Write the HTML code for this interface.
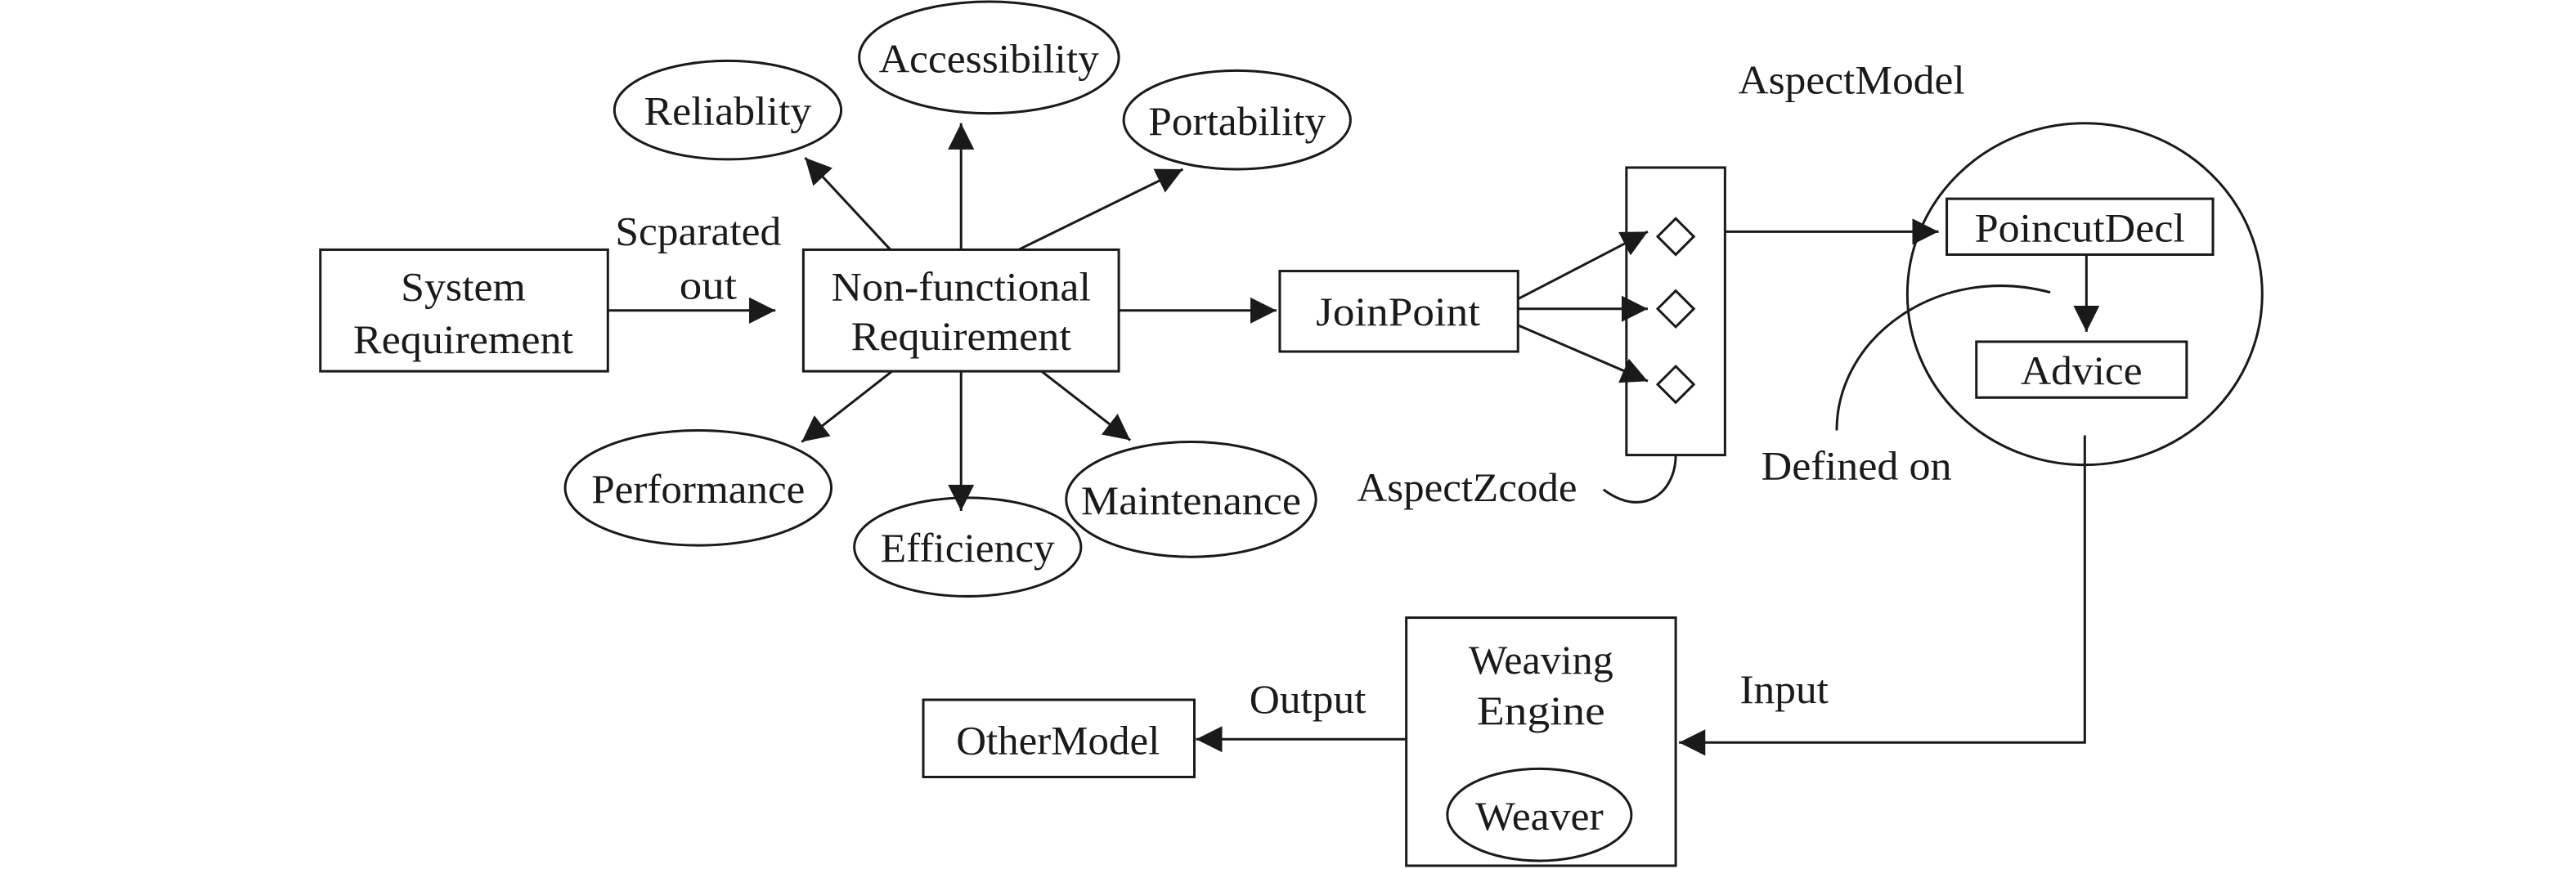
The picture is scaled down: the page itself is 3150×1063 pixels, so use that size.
<!DOCTYPE html>
<html><head><meta charset="utf-8"><style>
html,body{margin:0;padding:0;background:#fff;}
svg{display:block;}
text{font-family:"Liberation Serif",serif;font-size:25px;fill:#1a1a1a;}
</style></head><body>
<svg width="3150" height="1063" viewBox="0 0 1568 529" preserveAspectRatio="none" xmlns="http://www.w3.org/2000/svg">
<defs>
<marker id="a" viewBox="0 0 10 10" refX="10" refY="5" markerWidth="16" markerHeight="16" markerUnits="userSpaceOnUse" orient="auto">
<path d="M0,0 L10,5 L0,10 z" fill="#1a1a1a"/></marker>
</defs>
<g fill="none" stroke="#1a1a1a" stroke-width="1.5">
<rect x="195" y="152" width="175" height="74"/>
<rect x="489" y="152" width="192" height="74"/>
<rect x="779" y="165" width="145" height="49"/>
<ellipse cx="443" cy="67" rx="69" ry="30"/>
<ellipse cx="602" cy="35" rx="79" ry="34"/>
<ellipse cx="753" cy="73" rx="69" ry="30"/>
<ellipse cx="425" cy="297" rx="81" ry="35"/>
<ellipse cx="589" cy="333" rx="69" ry="30"/>
<ellipse cx="725" cy="304" rx="76" ry="35"/>
<line x1="370" y1="189" x2="472" y2="189" marker-end="url(#a)"/>
<line x1="681" y1="189" x2="777" y2="189" marker-end="url(#a)"/>
<line x1="542" y1="152" x2="490" y2="96" marker-end="url(#a)"/>
<line x1="585" y1="152" x2="585" y2="75" marker-end="url(#a)"/>
<line x1="620" y1="152" x2="720" y2="103" marker-end="url(#a)"/>
<line x1="543" y1="226" x2="488" y2="269" marker-end="url(#a)"/>
<line x1="585" y1="226" x2="585" y2="311" marker-end="url(#a)"/>
<line x1="634" y1="226" x2="688" y2="268" marker-end="url(#a)"/>
<rect x="990" y="102" width="60" height="175"/>
<path d="M1020,133 L1031,144 L1020,155 L1009,144 z"/>
<path d="M1020,177 L1031,188 L1020,199 L1009,188 z"/>
<path d="M1020,223 L1031,234 L1020,245 L1009,234 z"/>
<line x1="924" y1="182" x2="1003" y2="141" marker-end="url(#a)"/>
<line x1="924" y1="188" x2="1003" y2="188" marker-end="url(#a)"/>
<line x1="924" y1="198" x2="1003" y2="232" marker-end="url(#a)"/>
<line x1="1050" y1="141" x2="1180" y2="141" marker-end="url(#a)"/>
<ellipse cx="1269" cy="179" rx="108" ry="104"/>
<rect x="1185" y="121" width="162" height="34"/>
<rect x="1203" y="208" width="128" height="34"/>
<line x1="1270" y1="155" x2="1270" y2="202" marker-end="url(#a)"/>
<path d="M1118,262 C1118,205 1180,160 1248,178"/>
<path d="M1020,277 C1020,300 1000,316 976,298"/>
<polyline points="1269,265 1269,452 1022,452" marker-end="url(#a)"/>
<rect x="856" y="376" width="164" height="151"/>
<ellipse cx="937" cy="496" rx="56" ry="28"/>
<line x1="856" y1="450" x2="728" y2="450" marker-end="url(#a)"/>
<rect x="562" y="426" width="165" height="47"/>
</g>
<g text-anchor="middle">
<text x="282" y="183" textLength="76" lengthAdjust="spacingAndGlyphs">System</text>
<text x="282" y="215" textLength="134" lengthAdjust="spacingAndGlyphs">Requirement</text>
<text x="425" y="149" textLength="101" lengthAdjust="spacingAndGlyphs">Scparated</text>
<text x="431" y="182" textLength="35" lengthAdjust="spacingAndGlyphs">out</text>
<text x="585" y="183" textLength="158" lengthAdjust="spacingAndGlyphs">Non-functional</text>
<text x="585" y="213" textLength="134" lengthAdjust="spacingAndGlyphs">Requirement</text>
<text x="851" y="198" textLength="100" lengthAdjust="spacingAndGlyphs">JoinPoint</text>
<text x="443" y="76" textLength="102" lengthAdjust="spacingAndGlyphs">Reliablity</text>
<text x="602" y="44" textLength="134" lengthAdjust="spacingAndGlyphs">Accessibility</text>
<text x="753" y="82" textLength="108" lengthAdjust="spacingAndGlyphs">Portability</text>
<text x="425" y="306" textLength="130" lengthAdjust="spacingAndGlyphs">Performance</text>
<text x="589" y="342" textLength="106" lengthAdjust="spacingAndGlyphs">Efficiency</text>
<text x="725" y="313" textLength="134" lengthAdjust="spacingAndGlyphs">Maintenance</text>
<text x="1127" y="57" textLength="138" lengthAdjust="spacingAndGlyphs">AspectModel</text>
<text x="1266" y="147" textLength="128" lengthAdjust="spacingAndGlyphs">PoincutDecl</text>
<text x="1267" y="234" textLength="74" lengthAdjust="spacingAndGlyphs">Advice</text>
<text x="1130" y="292" textLength="116" lengthAdjust="spacingAndGlyphs">Defined on</text>
<text x="893" y="305" textLength="134" lengthAdjust="spacingAndGlyphs">AspectZcode</text>
<text x="938" y="410" textLength="88" lengthAdjust="spacingAndGlyphs">Weaving</text>
<text x="938" y="441" textLength="78" lengthAdjust="spacingAndGlyphs">Engine</text>
<text x="937" y="505" textLength="78" lengthAdjust="spacingAndGlyphs">Weaver</text>
<text x="1086" y="428" textLength="54" lengthAdjust="spacingAndGlyphs">Input</text>
<text x="796" y="434" textLength="71" lengthAdjust="spacingAndGlyphs">Output</text>
<text x="644" y="459" textLength="124" lengthAdjust="spacingAndGlyphs">OtherModel</text>
</g>
</svg>
</body></html>
